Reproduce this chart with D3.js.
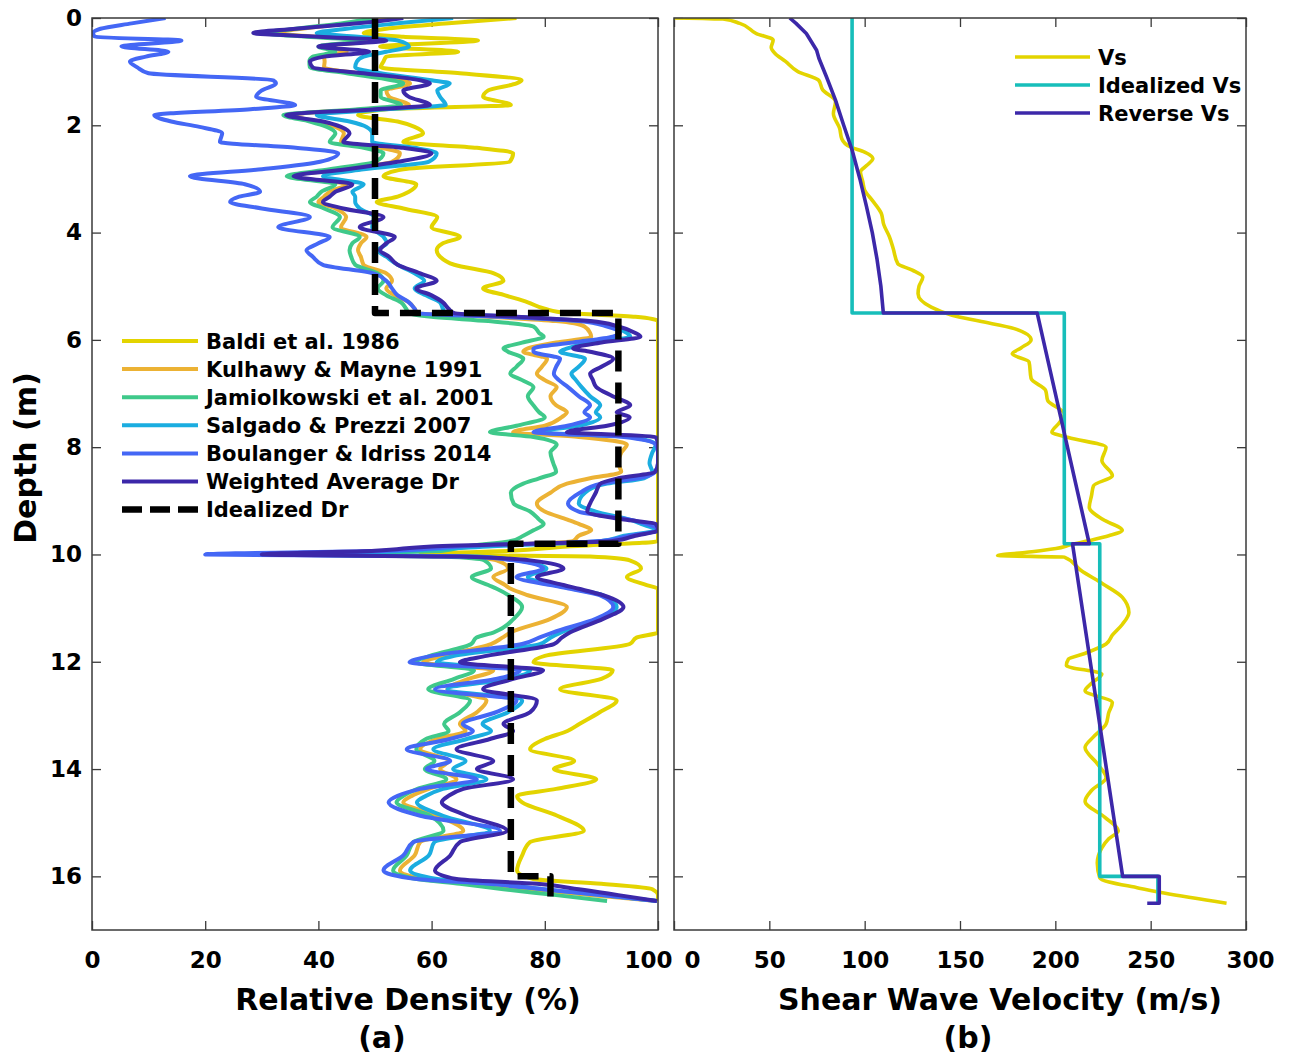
<!DOCTYPE html>
<html><head><meta charset="utf-8">
<script src="https://cdn.jsdelivr.net/npm/d3@7"></script>
<style>
body{margin:0;background:#fff;}
svg text{font-family:"DejaVu Sans",Verdana,sans-serif;font-weight:bold;fill:#000;}
</style></head><body>
<svg id="c" width="1290" height="1055"></svg>
<script>
// ---------- DATA ----------
const depth = [0,0.1,0.2,0.28,0.35,0.42,0.53,0.63,0.72,0.81,0.92,1.03,1.16,1.22,1.35,1.47,1.62,1.7,1.81,1.93,2.03,2.15,2.31,2.42,2.52,2.68,2.82,2.95,3.1,3.24,3.33,3.43,3.55,3.71,3.9,4.08,4.2,4.33,4.45,4.6,4.76,4.9,5.04,5.17,5.3,5.42,5.5,
5.57,5.65,5.75,5.87,5.94,6.05,6.16,6.22,6.35,6.5,6.63,6.75,6.88,7.05,7.22,7.35,7.44,7.6,7.72,7.81,7.95,8.1,8.3,8.46,8.58,8.68,8.85,9.05,9.2,9.35,9.43,9.55,9.65,9.75,9.85,9.93,
10.0,10.04,10.11,10.26,10.42,10.57,10.64,10.76,10.98,11.2,11.45,11.55,11.67,11.89,12.01,12.16,12.32,12.51,12.72,12.94,13.16,13.29,13.44,13.63,13.85,14.0,14.19,14.37,14.5,14.62,14.87,15.15,15.36,15.61,15.89,16.05,16.14,16.24,16.35,16.46];

const baldi = [75,63,52,48,55,68.2,50.9,64.7,52,51.5,51,65,75.9,75,70,69.1,74,52,47,54,57,58.5,55,68,74.4,73.8,55,51.5,57.3,56,54,50.3,55,61,60,65,62,60.9,61.5,64,71,72.7,69.1,73,77,80,84,
96,100,100,100,100,100,100,100,100,100,100,100,100,100,100,100,100,100,100,100,100,100,100,100,100,100,100,100,100,100,100,100,100,100,84,74,
58,88,95,97,94.5,98,100,100,100,100,100,96.2,95,80,78,92,90,82.7,92.7,89.7,86.1,84,80,77.4,85.2,81.6,89.1,82,75.1,76,82.2,86.9,77.4,76,75.1,78,90,99,100,100];

const kulhawy = [52,45,37,32,40,50,41,45,41,41.1,41,47,55,56.2,52,52.5,56,48,35,40,43,44.5,44,51,54.4,53,44,35,44.9,42,41,40,43,44.9,44,48.5,47.5,47,47.5,48,52,53,52,53.5,56,57,57.5,
70,82,87,88,88.2,82,77,76.2,80.4,79.5,78.6,80,82.1,81,82,83.9,83,80,74.4,86,94.5,93.5,93,93.5,88,83.9,81,78.6,80,84,86,88.2,86,85,68,58,
38,64,71.5,73.5,70.9,73,74,77,83.9,81,74,72.5,70.5,62,58.5,70.9,66.5,62.8,69.7,68,65,66,60.9,58,63,61.5,64.4,59.5,56.5,55,61,65.6,58,57,54.4,58.5,68,77.4,88,99.8];

const jamiolkowski = [50,44,36,30.5,38,48,40,43,39,38.4,38.5,45,53,55,51,51,54.6,47,33.8,38.5,41.5,43,42,48,51.5,50,42,34.4,43,40.5,39.7,38.5,41,43.8,42.5,47.3,46,45.5,45.8,46.5,50.5,51.5,50.5,52,54.6,55.5,56,
60,70,78,79,79.8,76,72.7,73.5,76.2,75,73.9,76,78,77,78,79,80,75,70.3,78,82.1,81,81.5,82,79,76.2,74,74.5,77.4,79,79.8,78,76.2,74,66,62,
40,62,69.3,70.5,67.1,70,71.5,73.6,76,74.5,71,67.9,67,59.7,57,67.5,64,59.4,66.8,65,62.2,63,59,57.3,60.5,58.8,62.6,57.5,55,53.8,59.7,62.1,56.8,55.6,53.2,57.4,65,72.7,82,91];

const salgado = [63.8,54,45,39.7,47,54,56,52,48,46.8,46.5,51,60,63.2,61,61.5,62.5,52,39.7,45.5,48.5,49.5,49.5,57,60.9,59.5,48,40.8,48,46,46.5,46.5,47.3,49.8,49.5,51.5,52.1,50.5,52,54,57,58.7,57,59,61.5,62,62.5,
74,87,92,94.5,95.1,88,84,82.7,87.1,86,84.7,85.5,86.5,88,89.8,89,89.8,86,79.2,95,99.6,99,98.5,99,97.5,91,87.1,86,89,95,97,99.6,94,90,70,55,
33,68,75,80.3,77,82,85,90.3,92.7,89.5,83,81,79.1,64,60.9,77.4,73.5,62.8,76,73.5,69,70.5,66.2,60.3,66,63.8,69.7,62,59,57.4,62,70.3,60.5,59.5,56.2,61,71,79.7,90,99.8];

const boulanger = [13,7,1.5,0.2,0.5,15.8,5.2,13.5,9.5,6.7,8,10,32,32.5,30,29,35.9,28,11,14,19,23,22.6,36,43.5,40.3,30,17.3,27,29.7,26,24.4,30,38.5,32.9,42,40,37.9,39,40.8,49.7,52,53,54,56,57,57.5,
72,86,91,93.3,92,85,78,78,82.7,82,81.6,82.5,84.1,86,88,87,88,84,78,94,99.6,100,100,99.5,96.5,90,86.2,84.1,86,95,98,100,95,90,65,52,
20,66,74.5,79.7,75,81,84.5,89.7,92.1,89,81.5,79,76,60,56.1,75.6,71.4,60.6,75,71.4,65.5,67.3,63.2,55.6,63.3,59.1,68,58,54,52.4,58,72.1,56.8,55,51.5,57.4,70,79.7,90,99.8];

const weighted = [55,47,36,28.5,40,52,40,49,41,38.5,39,48,58,59.7,55,56,59.7,50,34.3,40.8,44,45.5,44.4,55,60,54,45,35.6,46,43,42,40.8,44.4,51.5,47.3,53.5,52,50.9,52.5,54,58,60.9,57.3,60,62,63,64,
75,88,93,96,96.9,90,85,88,92.1,90,88,88.5,89.1,92,95.1,92.7,95,91,83.9,99.6,100,100,100,99.5,93,89.8,89,88,87.5,94,99.6,100,96,92,60,50,
30,65,77.4,83.3,78.6,83.3,86,90.3,93.9,90.3,84.5,83,81.6,69.7,65,79.7,74.4,69.1,78.6,77.4,72.7,74.4,70.3,64.4,70.9,68,74.4,65.6,63,61.8,66.2,73.3,65,63.3,60.6,64.4,78.6,86,93,99.8];

const idealDrDepth = [0,5.5,5.5,9.8,9.8,16.0,16.0,16.5];
const idealDr      = [50,50,93,93,74,74,81,81];

const vsDepth = [0,0.01,0.02,0.1,0.29,0.41,0.55,0.66,0.81,1.0,1.16,1.34,1.56,1.78,2.06,2.25,2.4,2.5,2.62,2.75,2.87,3.05,3.21,3.4,3.64,3.85,4.08,4.3,4.58,4.7,4.83,5.0,5.14,5.39,5.54,5.65,5.79,6.0,6.15,6.26,6.41,6.72,6.94,7.13,7.38,7.55,7.72,7.82,8.0,8.25,8.53,8.72,8.9,9.12,9.35,9.55,9.65,9.74,9.82,9.89,9.96,10.02,10.05,10.3,10.55,10.8,11.08,11.3,11.5,11.67,11.85,11.95,12.07,12.23,12.4,12.54,12.76,12.95,13.16,13.4,13.6,13.9,14.16,14.4,14.6,14.9,15.15,15.3,15.47,15.75,16.03,16.22,16.31,16.5];
const vs = [0,15,25.7,34.5,43.2,52,51,53,58.5,65,75.9,78,84.7,83.6,86.9,88,92.3,100,104.3,101,97.8,99,100,104,108.7,110,113,115,117.4,125,130.5,128.5,128,134.9,145.8,160,178.5,187.3,182,177.4,186.2,187.3,194.9,196,204.7,202,198.2,206.9,226.6,224.4,229.9,220,219,217.8,225,235.1,228,217.8,208,200.4,185,169.7,204.7,213.5,225,235.2,238.6,235.2,230,226.6,215,206.9,205.8,224.4,219,215.6,229.9,228,226.6,220,215.6,222,226.6,219,215.6,226,233,228,224.4,222,223.3,244,257,289.8];

const idealVsDepth = [0,5.5,5.5,9.8,9.8,16.0,16.0,16.52];
const idealVs      = [93.4,93.4,204.7,204.7,223.3,223.3,253.8,253.8];

const reverseVsDepth = [0,0.1,0.29,0.6,0.75,1.1,1.53,2.0,2.46,3.0,3.52,4.0,4.5,5.0,5.5,5.5,9.8,9.8,16.0,16.0,16.5,16.5];
const reverseVs      = [60.7,64,69.4,74.8,76,80,84.7,89,93.4,97.5,101,104,106.5,108.5,109.8,190.5,217.8,209,235.3,254.5,254.5,248.2];

const drTicks = [0,20,40,60,80,100];
const vsTicks = [0,50,100,150,200,250,300];
const depthTicks = [0,2,4,6,8,10,12,14,16];

const drSeries = [
  {name:"Baldi et al. 1986", values:baldi, color:"#E3D400"},
  {name:"Kulhawy & Mayne 1991", values:kulhawy, color:"#ECB234"},
  {name:"Jamiolkowski et al. 2001", values:jamiolkowski, color:"#3FC98A"},
  {name:"Salgado & Prezzi 2007", values:salgado, color:"#1BADE0"},
  {name:"Boulanger & Idriss 2014", values:boulanger, color:"#4467F5"},
  {name:"Weighted Average Dr", values:weighted, color:"#3C28A9"}
];
const vsSeries = [
  {name:"Vs", d:vsDepth, v:vs, color:"#E3D400", curve:d3.curveMonotoneY},
  {name:"Idealized Vs", d:idealVsDepth, v:idealVs, color:"#17BEBA", curve:d3.curveLinear},
  {name:"Reverse Vs", d:reverseVsDepth, v:reverseVs, color:"#3C28A9", curve:d3.curveLinear}
];

// ---------- SCALES ----------
const svg = d3.select("#c");
const y  = d3.scaleLinear().domain([0,17]).range([18,930]);
const xL = d3.scaleLinear().domain([0,100]).range([92,658]);
const xR = d3.scaleLinear().domain([0,300]).range([674,1246]);
const axisColor = "#3a3a3a";
const LW = 4, LWR = 3.6;

function frame(x, xt, yLabels, id, shift){
  const [x0,x1] = x.range(), [y0,y1] = y.range();
  svg.append("clipPath").attr("id",id).append("rect")
     .attr("x",x0).attr("y",y0).attr("width",x1-x0).attr("height",y1-y0);
  const style = g => {
    g.select(".domain").remove();
    g.selectAll(".tick line").attr("stroke",axisColor).attr("stroke-width",1.3);
    g.selectAll("text").attr("font-size",23).attr("font-family","DejaVu Sans").attr("font-weight","bold").attr("fill","#000");
  };
  const gb = svg.append("g").attr("transform",`translate(0,${y1})`)
     .call(d3.axisBottom(x).tickValues(xt).tickSizeInner(-9).tickSizeOuter(0).tickPadding(22).tickFormat(d3.format("d"))).call(style);
  gb.selectAll(".tick text").attr("dx", d => (shift[d]||0));
  svg.append("g").attr("transform",`translate(0,${y0})`)
     .call(d3.axisTop(x).tickValues(xt).tickSizeInner(-9).tickSizeOuter(0).tickFormat("")).call(style);
  svg.append("g").attr("transform",`translate(${x0},0)`)
     .call(d3.axisLeft(y).tickValues(depthTicks).tickSizeInner(-9).tickSizeOuter(0).tickPadding(10).tickFormat(yLabels?d3.format("d"):"")).call(style);
  svg.append("g").attr("transform",`translate(${x1},0)`)
     .call(d3.axisRight(y).tickValues(depthTicks).tickSizeInner(-9).tickSizeOuter(0).tickFormat("")).call(style);
}

function box(x){
  const [x0,x1] = x.range(), [y0,y1] = y.range();
  svg.append("rect").attr("x",x0).attr("y",y0).attr("width",x1-x0).attr("height",y1-y0)
     .attr("fill","none").attr("stroke",axisColor).attr("stroke-width",1.5);
}

frame(xL, drTicks, true, "clipL", {100:-10});
frame(xR, vsTicks, false, "clipR", {0:18, 300:4});

// ---------- LEFT PANEL ----------
const gL = svg.append("g").attr("clip-path","url(#clipL)");
const lineL = d3.line().x(d=>xL(d[1])).y(d=>y(d[0])).curve(d3.curveMonotoneY);
drSeries.forEach(s=>{
  gL.append("path").datum(depth.map((d,i)=>[d,s.values[i]]))
    .attr("d",lineL).attr("fill","none").attr("stroke",s.color)
    .attr("stroke-width",LW).attr("stroke-linejoin","round");
});
gL.append("path").datum(idealDrDepth.map((d,i)=>[d,idealDr[i]]))
  .attr("d",d3.line().x(d=>xL(d[1])).y(d=>y(d[0])))
  .attr("fill","none").attr("stroke","#000").attr("stroke-width",6.5)
  .attr("stroke-dasharray","21,11").attr("stroke-linejoin","round");

// ---------- RIGHT PANEL ----------
const gR = svg.append("g").attr("clip-path","url(#clipR)");
vsSeries.forEach(s=>{
  gR.append("path").datum(s.d.map((d,i)=>[d,s.v[i]]))
    .attr("d",d3.line().x(d=>xR(d[1])).y(d=>y(d[0])).curve(s.curve))
    .attr("fill","none").attr("stroke",s.color).attr("stroke-width",LWR).attr("stroke-linejoin","round");
});

box(xL); box(xR);

// ---------- LEGENDS ----------
const legL = svg.append("g");
const legItems = drSeries.map(s=>({name:s.name,color:s.color,dash:null}))
  .concat([{name:"Idealized Dr",color:"#000",dash:true}]);
legItems.forEach((it,i)=>{
  const yy = 341 + i*28.1;
  legL.append("line").attr("x1",122).attr("x2",198).attr("y1",yy).attr("y2",yy)
     .attr("stroke",it.color).attr("stroke-width",it.dash?6.5:LW)
     .attr("stroke-dasharray",it.dash?"20,8":null);
  legL.append("text").attr("x",206).attr("y",yy).attr("dy","0.36em").attr("font-size",21).text(it.name);
});
const legR = svg.append("g");
vsSeries.forEach((s,i)=>{
  const yy = 57 + i*28;
  legR.append("line").attr("x1",1015).attr("x2",1090).attr("y1",yy).attr("y2",yy)
     .attr("stroke",s.color).attr("stroke-width",LWR);
  legR.append("text").attr("x",1098).attr("y",yy).attr("dy","0.36em").attr("font-size",21).text(s.name);
});

// ---------- TITLES ----------
svg.append("text").attr("transform","translate(36,458) rotate(-90)").attr("text-anchor","middle")
   .attr("font-size",30).text("Depth (m)");
svg.append("text").attr("x",408).attr("y",1010).attr("text-anchor","middle").attr("font-size",30).text("Relative Density (%)");
svg.append("text").attr("x",382).attr("y",1048).attr("text-anchor","middle").attr("font-size",30).text("(a)");
svg.append("text").attr("x",1000).attr("y",1010).attr("text-anchor","middle").attr("font-size",30).text("Shear Wave Velocity (m/s)");
svg.append("text").attr("x",968).attr("y",1048).attr("text-anchor","middle").attr("font-size",30).text("(b)");
</script>
</body></html>
